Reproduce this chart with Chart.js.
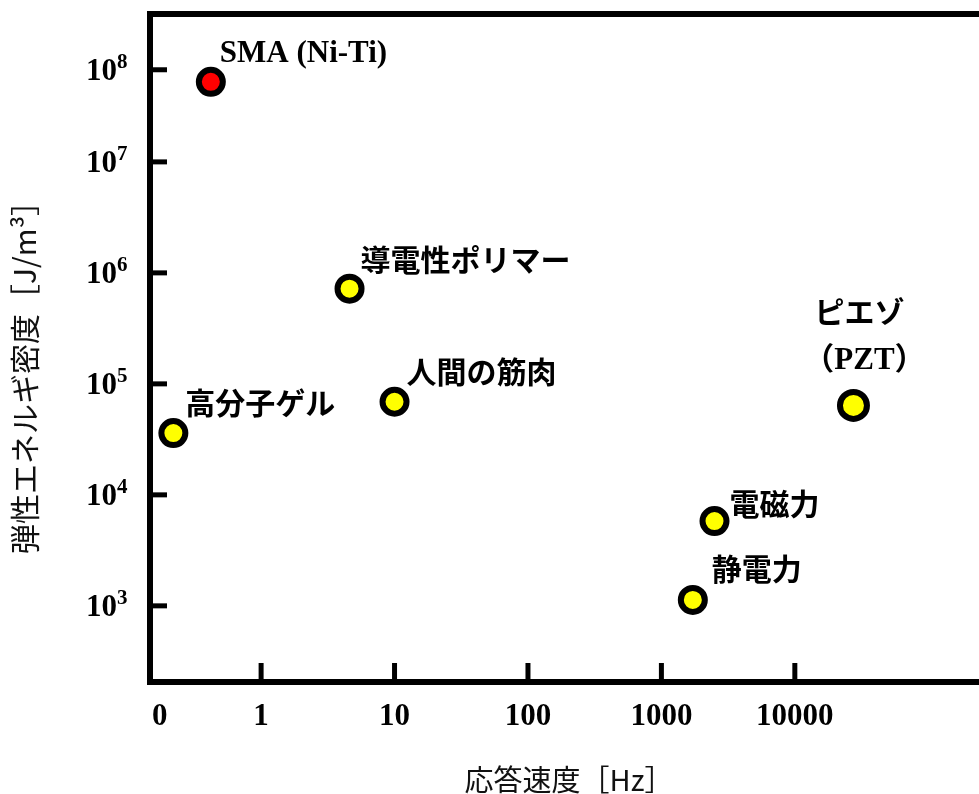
<!DOCTYPE html>
<html lang="ja">
<head>
<meta charset="UTF-8">
<title>応答速度と弾性エネルギ密度</title>
<style>
  html, body { margin: 0; padding: 0; background: #fff; overflow: hidden; }
  #chart { display: block; }
</style>
</head>
<body>
<canvas id="chart" width="979" height="794"></canvas>
<script src="https://cdn.jsdelivr.net/npm/chart.js@4"></script>
<script>
// values
const materials = ['SMA (Ni-Ti)', '高分子ゲル', '導電性ポリマー', '人間の筋肉', 'ピエゾ\n（PZT）', '電磁力', '静電力'];
const responseHz = [0.42, 0.22, 4.6, 10.0, 27500, 2500, 1720];       // [Hz]
const energyDensity = [7.4e7, 3.6e4, 7.2e5, 6.9e4, 6.4e4, 5.8e3, 1.13e3]; // [J/m3]
const xTickValues = [1, 10, 100, 1000, 10000];
const yTickValues = [1e3, 1e4, 1e5, 1e6, 1e7, 1e8];

const SERIF = '"Liberation Serif", "Noto Sans CJK JP", serif';
const GOTHIC = '"Noto Sans CJK JP", sans-serif';

// label placement relative to each point: [dx, dy, align]
const labelPlace = [[9, -28, 'left'], [12, -31, 'left'], [11, -29, 'left'], [12, -30, 'left'],
                    [6, -94, 'center'], [15, -18, 'left'], [19, -31, 'left']];

// log scale whose top decade is drawn a bit shorter, like the original
class WarpLogScale extends Chart.LogarithmicScale {
  static id = 'warplog';
  warp(v) {
    const from = this.options.warpFrom, k = this.options.warpFactor;
    if (!(v > 0) || from === undefined) return v;
    const l = Math.log10(v);
    return l <= from ? v : Math.pow(10, from + (l - from) * k);
  }
  getPixelForValue(v) {
    return super.getPixelForValue(this.warp(v));
  }
}
Chart.register(WarpLogScale);

const decor = {
  id: 'decor',
  afterDatasetsDraw(chart) {
    const ctx = chart.ctx;
    const meta = chart.getDatasetMeta(0);
    ctx.save();
    ctx.fillStyle = '#000';
    ctx.textBaseline = 'middle';
    meta.data.forEach((pt, i) => {
      const [dx, dy, align] = labelPlace[i];
      ctx.textAlign = align;
      materials[i].split('\n').forEach((line, j) => {
        const latin = /[A-Z]/.test(line);
        ctx.font = latin ? 'bold 31px ' + SERIF : 'bold 30px ' + GOTHIC;
        ctx.fillText(line, pt.x + dx + j * 5, pt.y + dy + j * 50);
      });
    });
    ctx.restore();
  },
  afterDraw(chart) {
    const ctx = chart.ctx, a = chart.chartArea;
    const xs = chart.scales.x, ys = chart.scales.y;
    ctx.save();
    ctx.strokeStyle = '#000';
    ctx.fillStyle = '#000';

    // frame (open on the right)
    ctx.lineWidth = 6;
    ctx.beginPath();
    ctx.moveTo(chart.width, a.top);
    ctx.lineTo(a.left, a.top);
    ctx.lineTo(a.left, a.bottom);
    ctx.lineTo(chart.width, a.bottom);
    ctx.stroke();

    // inward tick marks
    ctx.lineWidth = 5;
    xs.ticks.forEach((t, i) => {
      const x = xs.getPixelForTick(i);
      ctx.beginPath(); ctx.moveTo(x, a.bottom); ctx.lineTo(x, a.bottom - 19); ctx.stroke();
    });
    ys.ticks.forEach((t, i) => {
      const y = ys.getPixelForTick(i);
      ctx.beginPath(); ctx.moveTo(a.left, y); ctx.lineTo(a.left + 17, y); ctx.stroke();
    });

    // x tick labels
    ctx.textBaseline = 'alphabetic';
    ctx.font = 'bold 31px ' + SERIF;
    ctx.textAlign = 'left';
    ctx.fillText('0', a.left + 2, a.bottom + 43);
    ctx.textAlign = 'center';
    xs.ticks.forEach((t, i) => {
      ctx.fillText(String(t.value), xs.getPixelForTick(i), a.bottom + 43);
    });

    // y tick labels 10^n
    ys.ticks.forEach((t, i) => {
      const y = ys.getPixelForTick(i);
      ctx.textAlign = 'right';
      ctx.font = 'bold 31px ' + SERIF;
      ctx.fillText('10', a.left - 33, y + 10);
      ctx.textAlign = 'left';
      ctx.font = 'bold 21px ' + SERIF;
      ctx.fillText(String(Math.round(Math.log10(t.value))), a.left - 33, y - 2);
    });

    // axis titles
    ctx.fillStyle = '#111';
    ctx.textBaseline = 'middle';
    ctx.textAlign = 'center';
    ctx.font = '29px ' + GOTHIC;
    ctx.fillText('応答速度［Hz］', 569, 780);
    ctx.font = '30px ' + GOTHIC;
    ctx.translate(25, 370);
    ctx.rotate(-Math.PI / 2);
    ctx.fillText('弾性エネルギ密度［J/m³］', 0, 0);
    ctx.restore();
  }
};

const ctx = document.getElementById('chart').getContext('2d');
new Chart(ctx, {
  type: 'scatter',
  data: {
    datasets: [{
      label: '材料',
      data: responseHz.map((x, i) => ({ x: x, y: energyDensity[i] })),
      pointRadius: c => (c.dataIndex === 4 ? 13.5 : 12),
      pointHoverRadius: c => (c.dataIndex === 4 ? 13.5 : 12),
      pointBorderWidth: 6,
      pointBorderColor: '#000',
      pointBackgroundColor: c => (c.dataIndex === 0 ? '#ff0000' : '#ffff00'),
      clip: false
    }]
  },
  options: {
    responsive: false,
    animation: false,
    layout: { autoPadding: false, padding: { left: 150, top: 14, right: 0, bottom: 112 } },
    plugins: { legend: { display: false }, tooltip: { enabled: false } },
    scales: {
      x: {
        type: 'logarithmic',
        min: 0.147,
        max: 2.4e5,
        afterBuildTicks: s => { s.ticks = xTickValues.map(v => ({ value: v })); },
        ticks: { display: false },
        grid: { display: false, drawTicks: false },
        border: { display: false }
      },
      y: {
        type: 'warplog',
        warpFrom: 7,
        warpFactor: 0.83,
        min: 206,
        max: 2.15e8,
        afterBuildTicks: s => { s.ticks = yTickValues.map(v => ({ value: v })); },
        ticks: { display: false },
        grid: { display: false, drawTicks: false },
        border: { display: false }
      }
    }
  },
  plugins: [decor]
});
</script>
</body>
</html>
